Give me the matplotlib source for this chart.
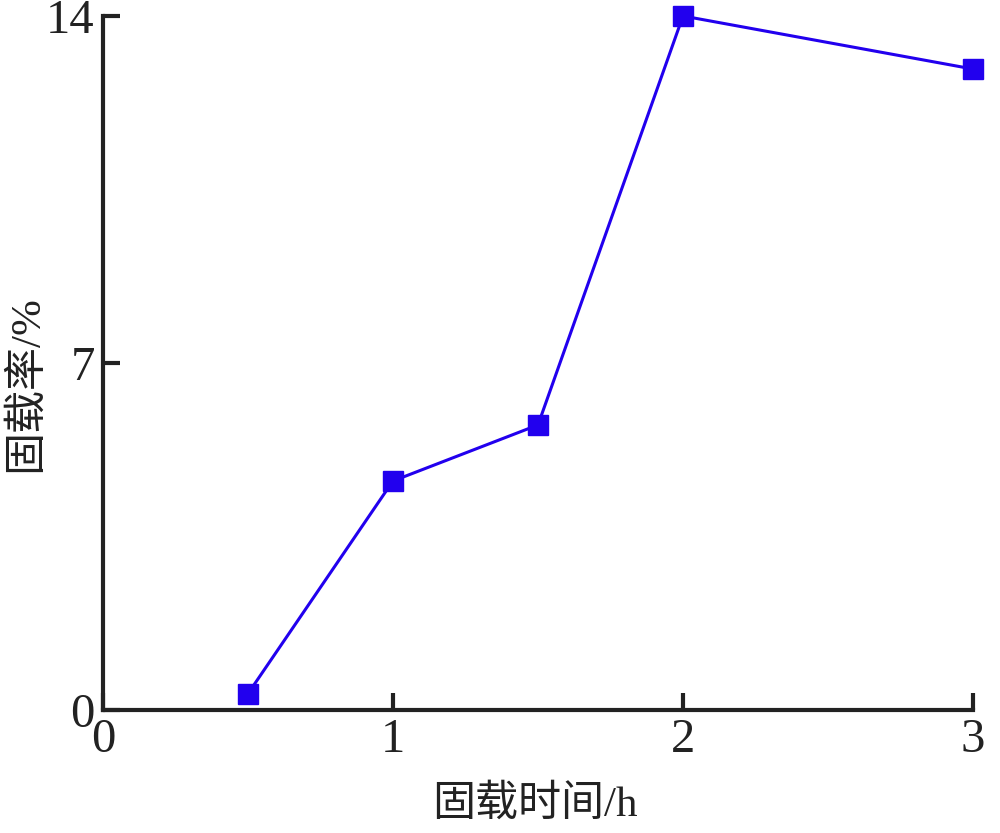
import matplotlib
matplotlib.use("Agg")
import matplotlib.pyplot as plt

time_h = [0.5, 1.0, 1.5, 2.0, 3.0]
loading_rate = [0.33, 4.62, 5.75, 14.0, 12.93]
xticks = [0, 1, 2, 3]
yticks = [0, 7, 14]

plt.rcParams['font.family'] = ['Liberation Serif', 'Noto Sans CJK SC']

fig = plt.figure(figsize=(10, 8.33), dpi=100)
ax = fig.add_axes([0.103, 0.1477, 0.870, 0.8331])

color = '#2200EE'
ax.plot(time_h, loading_rate, color=color, lw=2.2, marker='s', ms=14,
        mfc=color, mec=color, clip_on=False, zorder=3)

ax.set_xlim(0, 3)
ax.set_ylim(0, 14)
ax.set_xticks(xticks)
ax.set_yticks(yticks)
ax.set_xticklabels([str(t) for t in xticks])
ax.set_yticklabels([str(t) for t in yticks])

for s in ['top', 'right']:
    ax.spines[s].set_visible(False)
for s in ['left', 'bottom']:
    ax.spines[s].set_linewidth(3)
    ax.spines[s].set_color('#222222')

ax.tick_params(direction='in', length=12, width=3, labelsize=35, color='#222222',
               labelcolor='#222222', pad=6)

ax.set_xlabel('固载时间/h', fontsize=31, color='#222222')
ax.set_ylabel('固载率/%', fontsize=31, color='#222222')
ax.xaxis.set_label_coords(0.497, -0.108)
ax.yaxis.set_label_coords(-0.066, 0.47)

fig.savefig('out.png', dpi=100)
